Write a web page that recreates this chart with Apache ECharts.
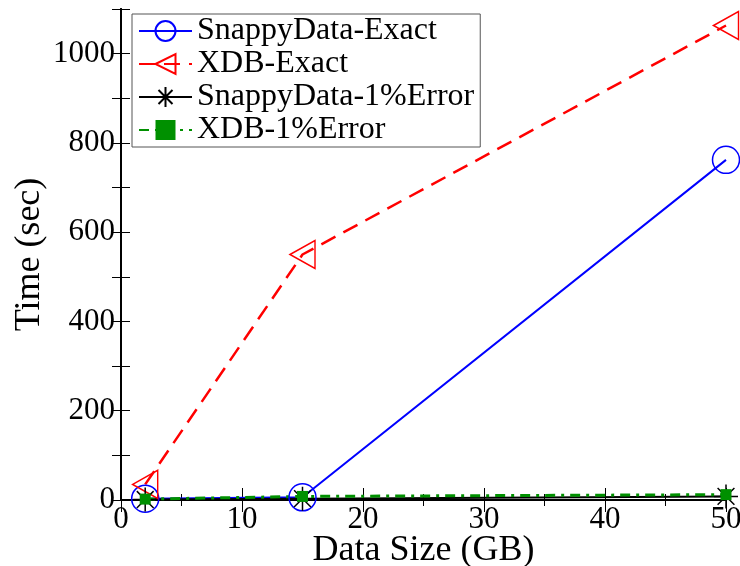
<!DOCTYPE html>
<html lang="en">
<head>
    <meta charset="UTF-8">
    <title>Time vs Data Size</title>
    <script src="https://cdn.jsdelivr.net/npm/echarts@6/dist/echarts.min.js"></script>
    <style>
        body { margin: 0; background: #fff; }
    </style>
</head>
<body>
<div id="demo" style="width:740px;height:566px"></div>
<script type="text/javascript">
    // values
    var sizes = [2, 15, 50];
    var snappyExact = [3, 6, 762];
    var xdbExact = [35, 550, 1063];
    var snappyErr = [1, 3, 8];
    var xdbErr = [2, 8, 12];
    var names = ['SnappyData-Exact', 'XDB-Exact', 'SnappyData-1%Error', 'XDB-1%Error'];

    var font = 'Liberation Serif';
    var star = 'path://M0,-10L0,10M-10,0L10,0M-7,-7L7,7M-7,7L7,-7';
    var leftTri = 'path://M0,5L10,0L10,10Z';

    function pairs(ys) {
        var out = [];
        for (var i = 0; i < sizes.length; i++) out.push([sizes[i], ys[i]]);
        return out;
    }

    var myChart = echarts.init(document.getElementById('demo'));
    var boxLine = {show: true, lineStyle: {color: '#000', width: 2}};
    var option = {
        animation: false,
        textStyle: {fontFamily: font},
        grid: {left: 121, right: 14, top: 9, bottom: 66, outerBoundsMode: 'none', containLabel: false},
        legend: {
            data: names,
            orient: 'vertical',
            left: 132, top: 14,
            padding: [1, 6, 1, 6],
            itemGap: 1,
            itemWidth: 53, itemHeight: 25,
            backgroundColor: '#fff',
            borderColor: '#555', borderWidth: 1,
            textStyle: {fontFamily: font, fontSize: 32, color: '#000'}
        },
        xAxis: [{
            type: 'value', min: 0, max: 50, interval: 10,
            name: 'Data Size (GB)', nameLocation: 'middle', nameGap: 33, nameMoveOverlap: false,
            nameTextStyle: {fontFamily: font, fontSize: 36, color: '#000'},
            axisLine: boxLine,
            axisTick: {inside: true, length: 12, lineStyle: {color: '#000'}},
            minorTick: {show: true, splitNumber: 2, length: 6, lineStyle: {color: '#000'}},
            axisLabel: {fontFamily: font, fontSize: 31, color: '#000', margin: 4},
            splitLine: {show: false}
        }, {
            type: 'value', position: 'top', min: 0, max: 50, interval: 10,
            axisLine: boxLine,
            axisTick: {inside: true, length: 12, lineStyle: {color: '#000'}},
            minorTick: {show: true, splitNumber: 2, length: 6, lineStyle: {color: '#000'}},
            axisLabel: {show: false},
            splitLine: {show: false}
        }],
        yAxis: [{
            type: 'value', min: 0, max: 1100, interval: 100,
            name: 'Time (sec)', nameLocation: 'middle', nameGap: 73, nameMoveOverlap: false,
            nameTextStyle: {fontFamily: font, fontSize: 36, color: '#000'},
            axisLine: boxLine,
            axisTick: {inside: true, length: 9, lineStyle: {color: '#000'}},
            axisLabel: {
                fontFamily: font, fontSize: 31, color: '#000', margin: 6,
                formatter: function (v) { return v % 200 === 0 && v <= 1000 ? v : ''; }
            },
            splitLine: {show: false}
        }, {
            type: 'value', position: 'right', min: 0, max: 1100, interval: 100,
            axisLine: boxLine,
            axisTick: {inside: true, length: 9, lineStyle: {color: '#000'}},
            axisLabel: {show: false},
            splitLine: {show: false}
        }],
        series: [{
            name: names[0], type: 'line', data: pairs(snappyExact),
            clip: false,
            symbol: 'circle', symbolSize: 27,
            lineStyle: {color: '#0000ff', width: 2},
            itemStyle: {color: 'rgba(0,0,0,0)', borderColor: '#0000ff', borderWidth: 1.5}
        }, {
            name: names[1], type: 'line', data: pairs(xdbExact),
            clip: false,
            symbol: leftTri, symbolSize: [25, 28],
            lineStyle: {color: '#ff0000', width: 2.5, type: [16, 9]},
            itemStyle: {color: 'rgba(0,0,0,0)', borderColor: '#ff0000', borderWidth: 1.5}
        }, {
            name: names[2], type: 'line', data: pairs(snappyErr),
            clip: false,
            symbol: star, symbolSize: 24,
            lineStyle: {color: '#000', width: 2},
            itemStyle: {color: 'rgba(0,0,0,0)', borderColor: '#000', borderWidth: 1.5}
        }, {
            name: names[3], type: 'line', data: pairs(xdbErr),
            clip: false,
            symbol: 'rect', symbolSize: 11,
            lineStyle: {color: '#009000', width: 3, type: [10, 6, 3, 6]},
            itemStyle: {color: '#009000'}
        }]
    };
    myChart.setOption(option);
</script>
</body>
</html>
